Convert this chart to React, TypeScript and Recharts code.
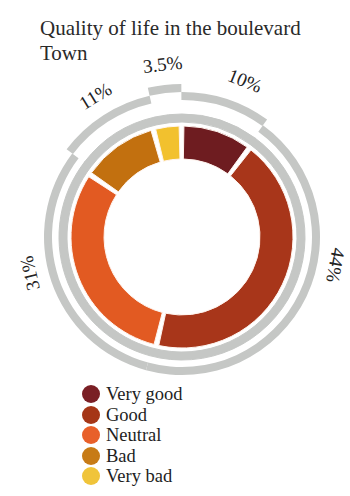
import React from 'react';
import { PieChart, Pie, Cell, Legend } from 'recharts';

const categories = ['Very good', 'Good', 'Neutral', 'Bad', 'Very bad'];
const shares = [10, 44, 31, 11, 3.5];
const shareLabels = ['10%', '44%', '31%', '11%', '3.5%'];
const titleLines = ['Quality of life in the boulevard', 'Town'];

const sliceColors = ['#6e1c20', '#a8361a', '#e25a22', '#c2700f', '#f2c12e'];
const legendColors = ['#7a1f25', '#a53617', '#e8602a', '#c77b16', '#f0c43a'];
const frameTier = [1, 0, 0, 1, 2];
const GRAY = '#c5c7c5';
const SERIF = '"Liberation Serif", "Times New Roman", serif';

const data = categories.map((name, i) => ({ name, value: shares[i] }));

const CX = 177;
const CY = 232;
const tierRadii = [
  [130, 138],
  [137, 145],
  [145, 153],
];

const renderLabel = (props: any) => {
  const { cx, cy, startAngle, endAngle, index } = props;
  const span = Math.abs(startAngle - endAngle);
  const theta = 90 - startAngle + Math.min(span * 0.6, 62);
  const rad = (theta * Math.PI) / 180;
  const r = 176 - 20 * Math.abs(Math.sin(rad));
  const x = cx + r * Math.sin(rad);
  const y = cy - r * Math.cos(rad);
  const rot = theta <= 180 ? theta : theta - 360;
  return (
    <text
      key={`lbl-${index}`}
      x={x}
      y={y}
      transform={`rotate(${rot} ${x} ${y})`}
      textAnchor="middle"
      dominantBaseline="central"
      fontFamily={SERIF}
      fontSize={19}
      fill="#222"
    >
      {shareLabels[index]}
    </text>
  );
};

const LegendContent = () => (
  <div style={{ fontFamily: SERIF, fontSize: 18.5, lineHeight: '20.5px', color: '#1e1e1e' }}>
    {categories.map((c, i) => (
      <div key={c} style={{ display: 'flex', alignItems: 'center', height: 20.5, whiteSpace: 'nowrap' }}>
        <span
          style={{
            display: 'inline-block',
            width: 18,
            height: 18,
            borderRadius: '50%',
            background: legendColors[i],
            marginRight: 6,
            flex: 'none',
          }}
        />
        <span>{c}</span>
      </div>
    ))}
  </div>
);

export default function App() {
  return (
    <div style={{ position: 'absolute', left: 0, top: 0, width: 350, height: 496, background: '#fff' }}>
      <div
        style={{
          position: 'absolute',
          left: 40,
          top: 16,
          fontFamily: SERIF,
          fontSize: 21,
          lineHeight: '25px',
          color: '#2a2a2a',
          whiteSpace: 'nowrap',
        }}
      >
        {titleLines.map((t) => (
          <div key={t}>{t}</div>
        ))}
      </div>
      <PieChart width={350} height={496} style={{ position: 'absolute', left: 0, top: 0 }}>
        <Pie
          data={data}
          dataKey="value"
          nameKey="name"
          cx={CX}
          cy={CY}
          innerRadius={115}
          outerRadius={123}
          startAngle={90}
          endAngle={-270}
          paddingAngle={0}
          stroke={GRAY}
          fill={GRAY}
          legendType="none"
          isAnimationActive={false}
        />
        {tierRadii.map(([ir, or], t) => (
          <Pie
            key={`tier-${t}`}
            data={data}
            dataKey="value"
            nameKey="name"
            cx={CX}
            cy={CY}
            innerRadius={ir}
            outerRadius={or}
            startAngle={90.25}
            endAngle={-269.75}
            paddingAngle={0}
            stroke="none"
            legendType="none"
            isAnimationActive={false}
          >
            {data.map((d, i) => (
              <Cell key={d.name} fill={frameTier[i] === t ? GRAY : 'none'} />
            ))}
          </Pie>
        ))}
        <Pie
          data={data}
          dataKey="value"
          nameKey="name"
          cx={CX}
          cy={CY}
          innerRadius={78}
          outerRadius={111}
          startAngle={89}
          endAngle={-271}
          paddingAngle={2.5}
          stroke="#fff4ee"
          strokeWidth={1}
          label={renderLabel}
          labelLine={false}
          isAnimationActive={false}
        >
          {data.map((d, i) => (
            <Cell key={d.name} fill={sliceColors[i]} />
          ))}
        </Pie>
        <Legend
          content={<LegendContent />}
          wrapperStyle={{ position: 'absolute', left: 82, top: 384, width: 160, bottom: 'auto' }}
        />
      </PieChart>
    </div>
  );
}
